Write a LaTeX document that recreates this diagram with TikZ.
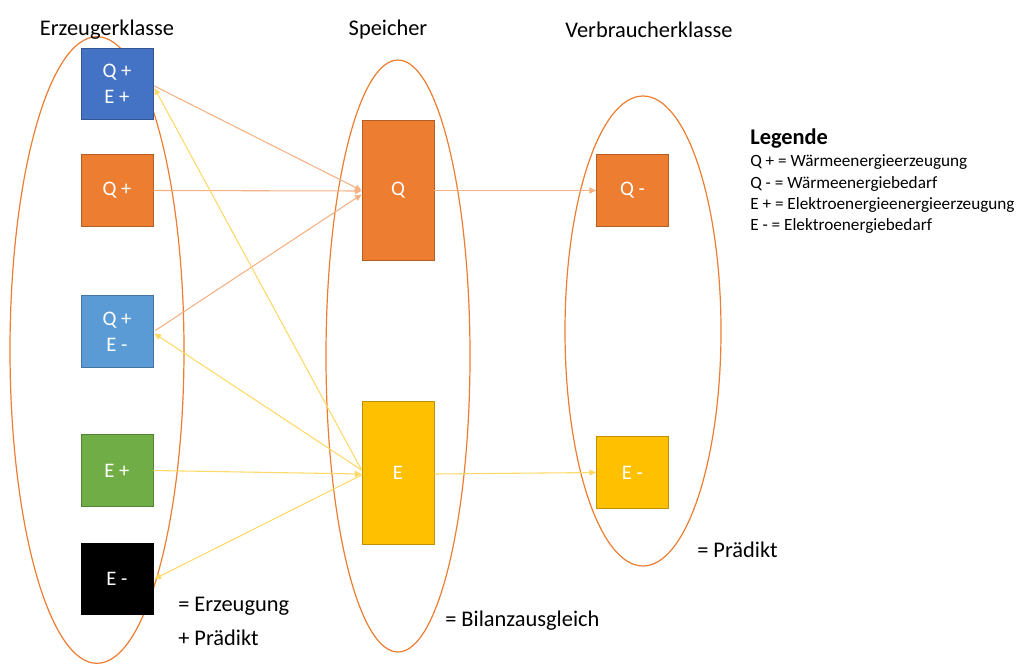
\documentclass[tikz,border=0pt]{standalone}
\usepackage{fontspec}
\setmainfont{Carlito}
\usetikzlibrary{arrows.meta,calc}
\definecolor{ora}{HTML}{ED7D31}
\definecolor{oraline}{HTML}{F4B183}
\definecolor{blu}{HTML}{4472C4}
\definecolor{lblu}{HTML}{5B9BD5}
\definecolor{grn}{HTML}{70AD47}
\definecolor{yel}{HTML}{FFC000}
\definecolor{yelline}{HTML}{FFD966}
\tikzset{
  box/.style={draw=#1!75!black, fill=#1, line width=0.6pt, text=white,
    minimum width=54pt, minimum height=53.5pt, inner sep=0pt, align=center,
    font=\fontsize{15.5}{19.5}\selectfont},
  tallbox/.style={box=#1, minimum height=105pt},
  group/.style={draw=ora, line width=0.9pt},
  title/.style={font=\fontsize{16.8}{20}\selectfont},
  note/.style={font=\fontsize{16.8}{20}\selectfont, anchor=west, inner sep=0pt},
  legitem/.style={font=\fontsize{12.9}{15}\selectfont, anchor=west, inner sep=0pt},
  oarrow/.style={draw=oraline, line width=0.8pt, -{Triangle[length=5pt,width=4.5pt]}},
  yarrow/.style={draw=yelline, line width=0.8pt, -{Triangle[length=5pt,width=4.5pt]}},
}
\begin{document}
\begin{tikzpicture}[x=0.75pt, y=-0.75pt]
\useasboundingbox (0,0) rectangle (1019,664);

% group outlines
\draw[group] (97,350) ellipse [x radius=65.25pt, y radius=235pt];
\draw[group] (398,356) ellipse [x radius=54pt, y radius=222pt];
\draw[group] (643,331) ellipse [x radius=58.5pt, y radius=176.25pt];

% column titles
\node[title] (tErz) at (107,30) {Erzeugerklasse};
\node[title] (tSp) at (388,30) {Speicher};
\node[title] (tVb) at (649,30) {Verbraucherklasse};

% producers
\node[box=blu] (b1) at (117,84) {Q +\\E +};
\node[box=ora] (b2) at (117,190.5) {Q +};
\node[box=lblu] (b3) at (117,331.5) {Q +\\E -};
\node[box=grn] (b4) at (117,470.5) {E +};
\node[box=black] (b5) at (117,579) {E -};

% storage
\node[tallbox=ora] (sQ) at (398,190.5) {Q};
\node[tallbox=yel, minimum height=107pt] (sE) at (398,473) {E};

% consumers
\node[box=ora] (cQ) at (632.5,190.5) {Q -};
\node[box=yel] (cE) at (632.5,472.5) {E -};

% heat connections
\draw[oarrow] ($(b1.east)+(1,2)$) -- ($(sQ.west)+(0,0)$);
\draw[oarrow] (b2.east) -- ($(sQ.west)+(0,0.5)$);
\draw[oarrow] ($(b3.east)+(2,-1)$) -- ($(sQ.west)+(0,4)$);
\draw[oarrow] (sQ.east) -- (cQ.west);

% electric connections
\draw[yarrow] ($(sE.west)+(0,-3)$) -- ($(b1.east)+(1,4)$);
\draw[yarrow] ($(sE.west)+(0,-3)$) -- ($(b3.east)+(1,2)$);
\draw[yarrow] (b4.east) -- ($(sE.west)+(0,1)$);
\draw[yarrow] ($(sE.west)+(0,2)$) -- ($(b5.east)+(1,0)$);
\draw[yarrow] ($(sE.east)+(0,1)$) -- (cE.west);

% annotations
\node[note] (nErz) at (178,606) {= Erzeugung};
\node[note] (nPr) at (178,638) {+ Prädikt};
\node[note] (nBil) at (445,621) {= Bilanzausgleich};
\node[note] (nVb) at (697,550) {= Prädikt};

% legend
\node[anchor=west, inner sep=0pt, font=\fontsize{16.8}{20}\bfseries\selectfont] (leg) at (750,139) {Legende};
\node[legitem] (l1) at (750,162) {Q + = Wärmeenergieerzeugung};
\node[legitem] (l2) at (750,184) {Q - = Wärmeenergiebedarf};
\node[legitem] (l3) at (750,205) {E + = Elektroenergieenergieerzeugung};
\node[legitem] (l4) at (750,226) {E - = Elektroenergiebedarf};
\end{tikzpicture}
\end{document}
